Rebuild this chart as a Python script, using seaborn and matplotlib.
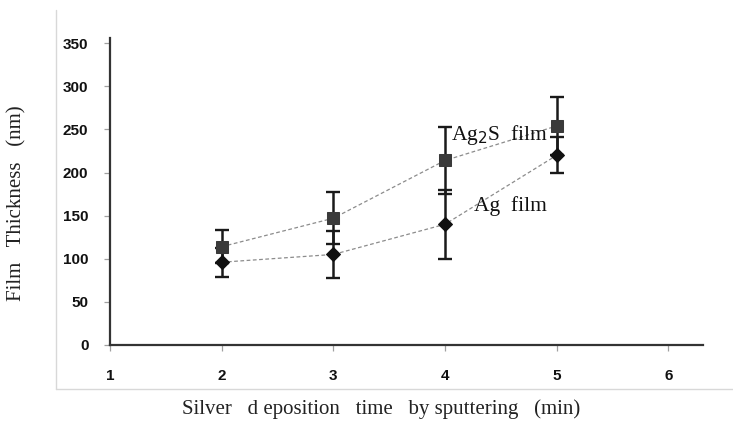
import matplotlib
matplotlib.use("Agg")
import matplotlib.pyplot as plt
import seaborn as sns
import pandas as pd
from matplotlib.lines import Line2D

# Deposition times (min) and measured film thickness (nm)
time_min = [2, 3, 4, 5]
ag2s_thickness = [114, 147, 214, 254]
ag2s_error = [19, 30, 39, 34]
ag_thickness = [96, 105, 140, 220]
ag_error = [17, 27, 40, 21]

x_ticks = [1, 2, 3, 4, 5, 6]
y_ticks = [0, 50, 100, 150, 200, 250, 300, 350]

sns.set_style("white")
plt.rcParams["font.family"] = ["Liberation Sans Narrow", "Liberation Sans", "DejaVu Sans"]

df = pd.DataFrame({
    "time": time_min * 2,
    "thickness": ag2s_thickness + ag_thickness,
    "film": ["Ag2S"] * 4 + ["Ag"] * 4,
})

W, H = 733, 424
fig = plt.figure(figsize=(W / 100, H / 100), dpi=100)
ax = fig.add_axes([110 / W, 1 - 345 / H, (703 - 110) / W, (345 - 38) / H])

# light chart-area border (left and bottom edges)
border = "#d8d8d8"
fig.add_artist(Line2D([56 / W, 56 / W], [1 - 389 / H, 1 - 10 / H],
                      transform=fig.transFigure, color=border, linewidth=1.0))
fig.add_artist(Line2D([56 / W, 1.0], [1 - 389 / H, 1 - 389 / H],
                      transform=fig.transFigure, color=border, linewidth=1.0))

# error bars
for y, e in [(ag_thickness, ag_error), (ag2s_thickness, ag2s_error)]:
    ax.errorbar(time_min, y, yerr=e, fmt="none", ecolor="#1a1a1a",
                elinewidth=1.8, capsize=4.8, capthick=1.7, zorder=2)

line_kw = dict(color="#8c8c8c", linewidth=0.9, dashes=(3, 2), zorder=3, legend=False)
sns.lineplot(data=df[df.film == "Ag"], x="time", y="thickness", ax=ax,
             marker="D", markersize=7.5, markerfacecolor="#111111",
             markeredgecolor="#111111", **line_kw)
sns.lineplot(data=df[df.film == "Ag2S"], x="time", y="thickness", ax=ax,
             marker="s", markersize=9, markerfacecolor="#3a3a3a",
             markeredgecolor="#3a3a3a", **line_kw)

ax.set_xlim(1, 6.31)
ax.set_ylim(0, 356)
ax.set_xticks(x_ticks)
ax.set_yticks(y_ticks)
ax.set_xticklabels([str(t) for t in x_ticks], fontweight="bold", fontsize=11,
                   color="#111111")
ax.set_yticklabels([str(t) for t in y_ticks], fontweight="bold", fontsize=11,
                   color="#111111")
ax.tick_params(axis="both", direction="out", length=4, width=0.9,
               color="#a0a0a0", bottom=True, left=True)
ax.tick_params(axis="y", pad=11.5)
ax.tick_params(axis="x", pad=13)
ax.set_xlabel("")
ax.set_ylabel("")

for side in ["top", "right"]:
    ax.spines[side].set_visible(False)
for side in ["left", "bottom"]:
    ax.spines[side].set_color("#333333")
    ax.spines[side].set_linewidth(1.6)

serif = ["Liberation Serif", "DejaVu Serif"]
fig.text(381 / W, 1 - 409 / H, "Silver   d eposition   time   by sputtering   (min)",
         family=serif, fontsize=15, ha="center", va="center", color="#222222")
fig.text(17 / W, 1 - 203 / H, "Film   Thickness   (nm)", family=serif, fontsize=15,
         rotation=90, ha="center", va="center", color="#222222")

ax.text(4.05, 243, r"Ag$_2$S  film", family=serif, fontsize=15.5, va="center",
        ha="left", color="#111111")
ax.text(4.26, 161, "Ag  film", family=serif, fontsize=15.5, va="center",
        ha="left", color="#111111")

fig.savefig("out.png", dpi=100)
